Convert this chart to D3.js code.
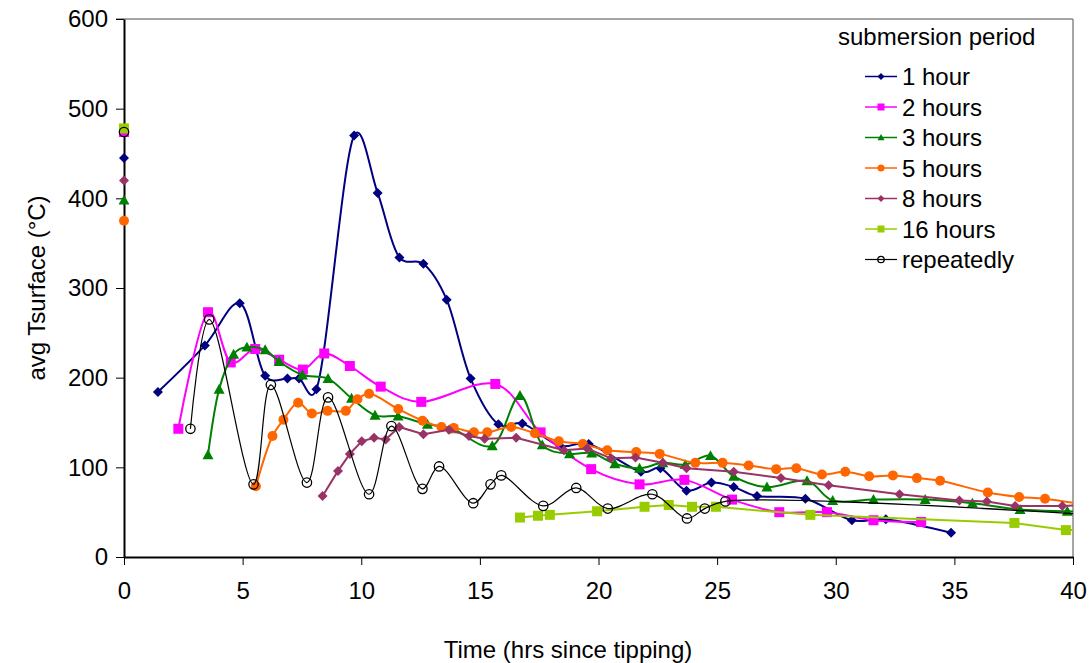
<!DOCTYPE html>
<html>
<head>
<meta charset="utf-8">
<script src="https://cdn.jsdelivr.net/npm/d3@7"></script>
<style>
  body { margin: 0; background: #fff; }
  text { font-family: "Liberation Sans", Arial, sans-serif; fill: #000; }
</style>
</head>
<body>
<svg id="chart" width="1092" height="663"></svg>
<script>
// Values: hours since tipping / avg surface temp (°C).
var seriesNames = ["1 hour", "2 hours", "3 hours", "5 hours", "8 hours", "16 hours", "repeatedly"];

// Lone reading at t = 0 for each series (not joined to the rest).
var startTemps = [445, 474, 398, 375, 420, 478, 474];

var oneHourT = [1.43, 3.41, 4.88, 5.95, 6.89, 7.38, 8.11, 9.7, 10.69, 11.61, 12.62, 13.6, 14.61, 15.78, 16.79, 18.37, 19.59, 21.79, 22.61, 23.71, 24.76, 25.7, 26.68, 28.72, 30.68, 32.11, 34.86];
var oneHourV = [184, 236, 283, 202, 199, 199, 187, 470, 406, 334, 327, 287, 199, 148, 149, 124, 126, 95, 99, 74, 83, 78, 68, 65, 41, 42, 27];

var twoHoursT = [2.29, 3.54, 4.5, 5.53, 6.54, 7.54, 8.44, 9.52, 10.82, 12.53, 15.65, 17.56, 19.69, 21.73, 23.62, 25.63, 27.62, 29.63, 31.59, 33.6];
var twoHoursV = [143, 273, 217, 232, 220, 209, 227, 213, 190, 173, 193, 139, 98, 81, 86, 64, 50, 50, 41, 39];

var threeHoursT = [3.54, 4.01, 4.62, 5.18, 5.95, 6.54, 7.52, 8.6, 9.59, 10.58, 11.55, 12.79, 13.84, 15.52, 16.69, 17.63, 18.78, 19.71, 20.69, 21.73, 22.71, 23.66, 24.72, 25.7, 27.1, 28.79, 29.87, 31.59, 33.77, 35.76, 37.77, 39.76, 41];
var threeHoursV = [114, 187, 226, 234, 231, 218, 203, 199, 177, 158, 157, 148, 143, 124, 180, 125, 115, 116, 104, 99, 105, 103, 113, 90, 78, 85, 63, 64, 64, 60, 53, 51, 50];

var fiveHoursT = [5.56, 6.26, 6.72, 7.34, 7.92, 8.58, 9.35, 9.84, 10.33, 11.56, 12.58, 13.38, 13.9, 14.75, 15.31, 16.32, 17.32, 18.33, 19.34, 20.37, 21.59, 22.58, 24.08, 25.23, 26.33, 27.49, 28.34, 29.42, 30.4, 31.41, 32.41, 33.42, 34.4, 36.41, 37.73, 38.82, 41];
var fiveHoursV = [79, 135, 153, 172, 160, 163, 163, 176, 182, 165, 152, 145, 144, 139, 139, 145, 138, 129, 126, 119, 117, 115, 105, 105, 102, 98, 99, 92, 95, 90, 91, 88, 85, 72, 67, 65, 56];

var eightHoursT = [8.37, 9.02, 9.52, 10.02, 10.54, 11.03, 11.6, 12.62, 13.7, 14.54, 15.2, 16.53, 18.54, 19.52, 20.53, 21.56, 22.71, 23.71, 25.7, 27.69, 29.7, 32.69, 35.21, 36.37, 37.56, 39.55, 41];
var eightHoursV = [68, 96, 115, 129, 133, 131, 145, 137, 142, 135, 132, 133, 119, 121, 110, 111, 105, 99, 95, 88, 80, 70, 63, 62, 57, 57, 58];

var sixteenHoursT = [16.69, 17.45, 17.95, 19.94, 21.94, 22.96, 23.94, 24.95, 28.93, 37.53, 39.7, 41];
var sixteenHoursV = [44, 46, 47, 51, 56, 58, 56, 56, 47, 38, 30, 30];

var repeatedT = [2.8, 3.59, 5.46, 6.19, 7.71, 8.6, 10.33, 11.27, 12.58, 13.28, 14.72, 15.45, 15.9, 17.67, 19.06, 20.39, 22.27, 23.73, 24.48, 25.35, 48];
var repeatedV = [143, 265, 81, 192, 83, 178, 70, 146, 76, 101, 60, 81, 91, 57, 77, 54, 70, 43, 54, 62, 35];

var xTicks = [0, 5, 10, 15, 20, 25, 30, 35, 40];
var yTicks = [0, 100, 200, 300, 400, 500, 600];

var colors = ["#000080", "#ff00ff", "#008000", "#ff6600", "#993366", "#99cc00", "#000000"];
var shapes = ["diamond", "square", "triangle", "circle", "diamond", "square", "open"];
// Line style per series: spline or straight segments.
var spline = d3.curveCatmullRom.alpha(0.2);
var curves = [spline, spline, spline, d3.curveCatmullRom, d3.curveLinear, d3.curveLinear, d3.curveCatmullRom];

var series = [
  [oneHourT, oneHourV], [twoHoursT, twoHoursV], [threeHoursT, threeHoursV],
  [fiveHoursT, fiveHoursV], [eightHoursT, eightHoursV], [sixteenHoursT, sixteenHoursV],
  [repeatedT, repeatedV]
].map(function(s, i) {
  return {
    name: seriesNames[i],
    color: colors[i],
    shape: shapes[i],
    curve: curves[i],
    start: startTemps[i],
    points: s[0].map(function(t, j) { return { t: t, v: s[1][j] }; })
  };
});

var plotLeft = 124, plotRight = 1073, plotTop = 19, plotBottom = 557;
var fontSize = 24;

var x = d3.scaleLinear().domain([0, 40]).range([plotLeft, plotRight]);
var y = d3.scaleLinear().domain([0, 600]).range([plotBottom, plotTop]);

var svg = d3.select("#chart");

svg.append("defs").append("clipPath").attr("id", "plot")
  .append("rect")
  .attr("x", plotLeft - 8).attr("y", plotTop - 8)
  .attr("width", plotRight - plotLeft + 8).attr("height", plotBottom - plotTop + 8);

// Marker path for a shape, r is the half size.
function marker(shape, r) {
  if (shape == "diamond") return "M0," + (-r) + "L" + r + ",0L0," + r + "L" + (-r) + ",0Z";
  if (shape == "square") return "M" + (-r) + "," + (-r) + "h" + 2 * r + "v" + 2 * r + "h" + (-2 * r) + "Z";
  if (shape == "triangle") return "M0," + (-r) + "L" + r + "," + (r * 0.8) + "L" + (-r) + "," + (r * 0.8) + "Z";
  return d3.symbol(d3.symbolCircle, Math.PI * r * r)();
}

function styleMarker(sel, s) {
  if (s.shape == "open") {
    sel.attr("fill", "none").attr("stroke", "#000").attr("stroke-width", 1.3);
  } else {
    sel.attr("fill", s.color).attr("stroke", "none");
  }
}

var markerSize = { diamond: 5, square: 5, triangle: 5.5, circle: 5, open: 4.7 };

// Plot frame: grey top and right, black axes.
svg.append("line").attr("x1", plotLeft - 8).attr("x2", plotRight).attr("y1", plotTop).attr("y2", plotTop)
  .attr("stroke", "#888").attr("stroke-width", 1.5);
svg.append("line").attr("x1", plotRight).attr("x2", plotRight).attr("y1", plotTop).attr("y2", plotBottom)
  .attr("stroke", "#888").attr("stroke-width", 1.5);

var xAxis = svg.append("g")
  .attr("transform", "translate(0," + plotBottom + ")")
  .call(d3.axisBottom(x).tickValues(xTicks).tickSize(8).tickPadding(17).tickSizeOuter(0));
var yAxis = svg.append("g")
  .attr("transform", "translate(" + plotLeft + ",0)")
  .call(d3.axisLeft(y).tickValues(yTicks).tickSize(8).tickPadding(8).tickSizeOuter(0));

[xAxis, yAxis].forEach(function(a) {
  a.select(".domain").attr("stroke", "#000").attr("stroke-width", 2);
  a.selectAll(".tick line").attr("stroke", "#000").attr("stroke-width", 1);
  a.selectAll(".tick text").attr("font-size", fontSize).attr("font-family", "Liberation Sans, Arial, sans-serif");
});

var plot = svg.append("g").attr("clip-path", "url(#plot)");

series.forEach(function(s) {
  var g = plot.append("g");

  var line = d3.line()
    .x(function(d) { return x(d.t); })
    .y(function(d) { return y(d.v); })
    .curve(s.curve);

  g.append("path")
    .datum(s.points)
    .attr("d", line)
    .attr("fill", "none")
    .attr("stroke", s.color)
    .attr("stroke-width", s.shape == "open" ? 1.2 : 2);

  var pts = [{ t: 0, v: s.start }].concat(s.points);
  g.selectAll("path.m")
    .data(pts)
    .enter()
    .append("path")
    .attr("class", "m")
    .attr("d", marker(s.shape, markerSize[s.shape]))
    .attr("transform", function(d) { return "translate(" + x(d.t) + "," + y(d.v) + ")"; })
    .call(styleMarker, s);
});

// Legend
var legend = svg.append("g");
legend.append("text")
  .attr("x", 838).attr("y", 45)
  .attr("font-size", fontSize)
  .text("submersion period");

var rows = legend.selectAll("g.row")
  .data(series)
  .enter()
  .append("g")
  .attr("class", "row")
  .attr("transform", function(d, i) { return "translate(0," + (76.5 + i * 30.5) + ")"; });

rows.append("line")
  .attr("x1", 865).attr("x2", 897)
  .attr("stroke", function(d) { return d.color; })
  .attr("stroke-width", function(d) { return d.shape == "open" ? 1.2 : 1.5; });

rows.append("path")
  .attr("d", function(d) { return marker(d.shape, d.shape == "open" ? 3.2 : 3.5); })
  .attr("transform", "translate(881,0)")
  .each(function(d) { d3.select(this).call(styleMarker, d); });

rows.append("text")
  .attr("x", 902).attr("y", 8.5)
  .attr("font-size", fontSize)
  .text(function(d) { return d.name; });

// Axis titles
svg.append("text")
  .attr("x", 568).attr("y", 658)
  .attr("text-anchor", "middle")
  .attr("font-size", fontSize)
  .text("Time (hrs since tipping)");

svg.append("text")
  .attr("transform", "translate(45,288) rotate(-90)")
  .attr("text-anchor", "middle")
  .attr("font-size", fontSize)
  .text("avg Tsurface (°C)");
</script>
</body>
</html>
